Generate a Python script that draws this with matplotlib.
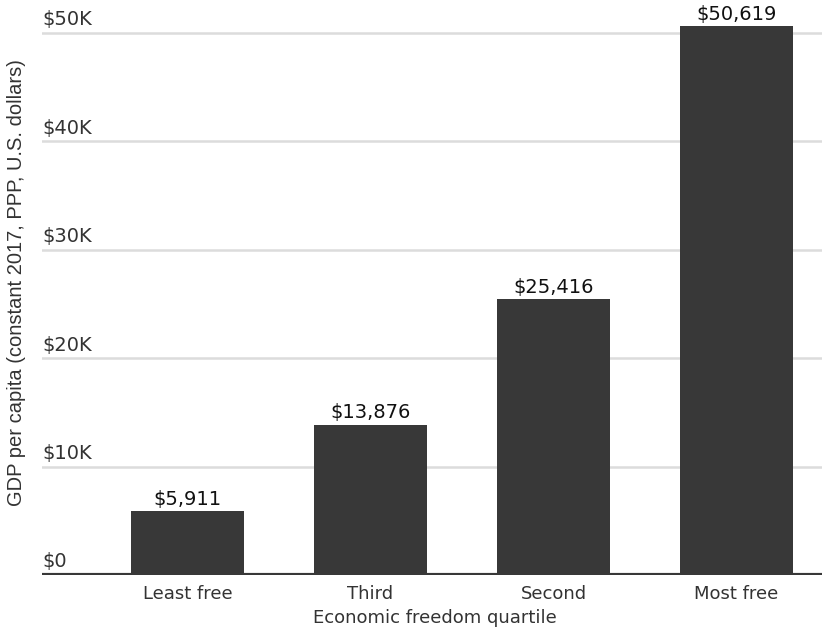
import matplotlib
matplotlib.use("Agg")
import matplotlib.pyplot as plt

categories = ["Least free", "Third", "Second", "Most free"]
values = [5911, 13876, 25416, 50619]
yticks = [0, 10000, 20000, 30000, 40000, 50000]
ytick_labels = ["$0", "$10K", "$20K", "$30K", "$40K", "$50K"]

plt.rcParams['font.family'] = ['DejaVu Sans']

W, H = 822, 636
fig = plt.figure(figsize=(W / 100, H / 100), dpi=100)
ax_left, ax_right, ax_bottom, ax_top = 42, 822, 575, 0
ax = fig.add_axes([ax_left / W, (H - ax_bottom) / H, (ax_right - ax_left) / W, (ax_bottom - ax_top) / H])

bar_color = "#383838"
x = list(range(len(categories)))
ax.bar(x, values, width=0.617, color=bar_color, zorder=3)

ax.set_xlim(-0.795, 3.467)
ax.set_ylim(0, 53044)

for yv in yticks[1:]:
    ax.axhline(yv, color="#dcdcdc", lw=1.8, zorder=1)
ax.axhline(0, color=bar_color, lw=3, zorder=4)

for yv, lab in zip(yticks, ytick_labels):
    ax.annotate(lab, xy=(0, yv), xycoords=("axes fraction", "data"),
                xytext=(0, 5.5), textcoords="offset points",
                ha="left", va="baseline", fontsize=14, color="#333333")

for xi, v in zip(x, values):
    ax.annotate(f"${v:,}", xy=(xi, v), xytext=(0, 4.5), textcoords="offset points",
                ha="center", va="baseline", fontsize=14, color="#111111")

ax.set_xticks(x)
ax.set_xticklabels(categories, fontsize=13, color="#333333")
ax.tick_params(axis="x", length=0, pad=7)
ax.set_yticks([])
for s in ax.spines.values():
    s.set_visible(False)

fig.text(435 / W, 1 - 623 / H, "Economic freedom quartile", ha="center", va="baseline",
         fontsize=13, color="#333333")
fig.text(17 / W, 1 - 283 / H, "GDP per capita (constant 2017, PPP, U.S. dollars)",
         rotation=90, ha="center", va="center", fontsize=14.5, color="#333333",
         family=["Liberation Sans", "DejaVu Sans"])

fig.savefig("out.png", dpi=100)
